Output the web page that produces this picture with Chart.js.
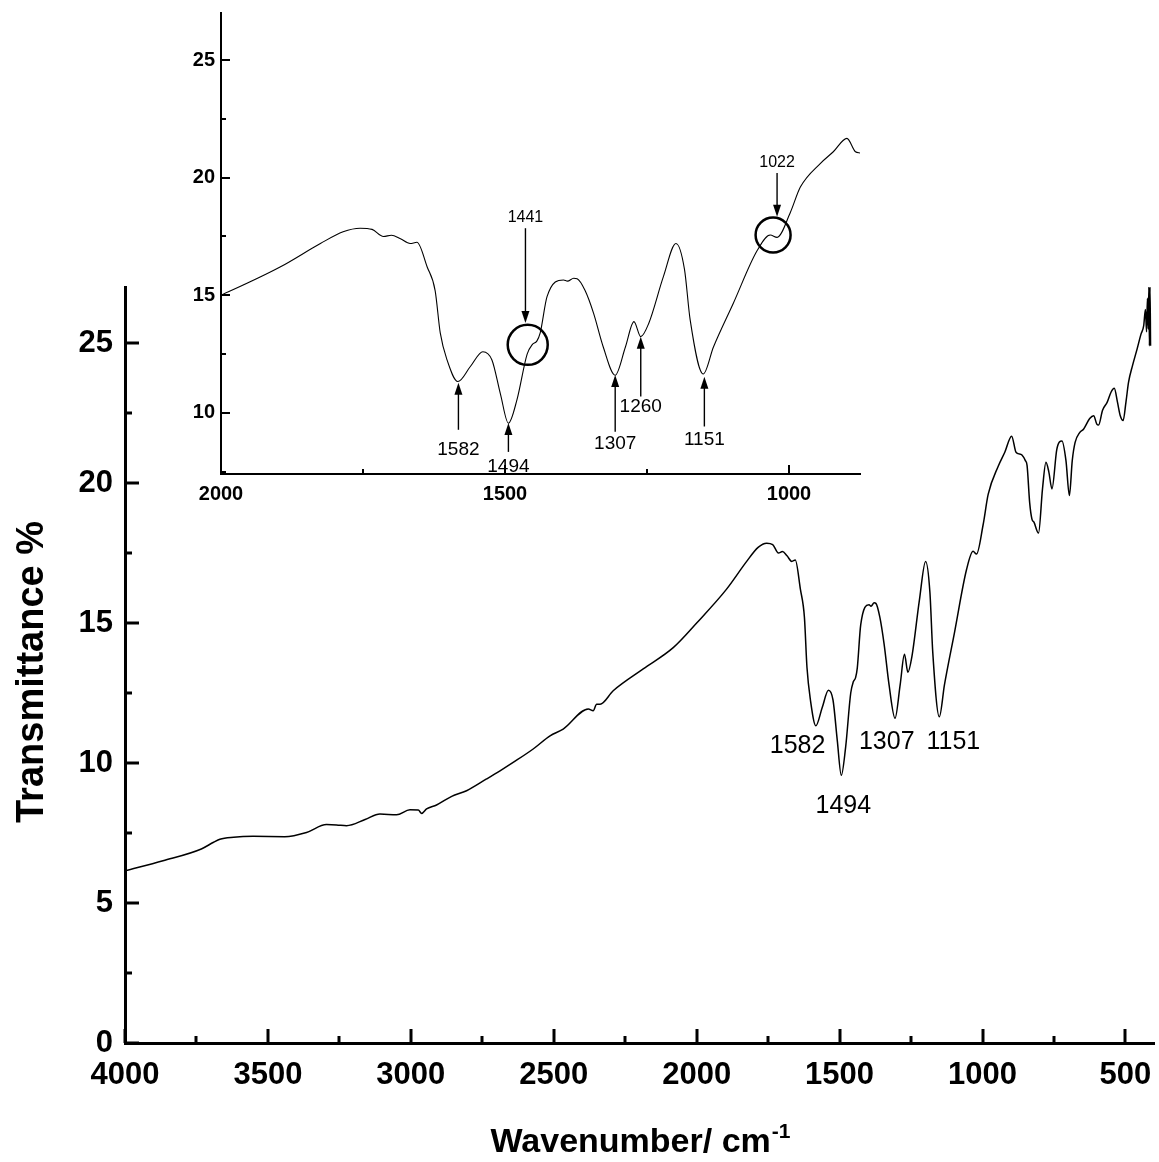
<!DOCTYPE html>
<html>
<head>
<meta charset="utf-8">
<script src="https://cdn.jsdelivr.net/npm/chart.js@4.4.0/dist/chart.umd.min.js"></script>
<style>
  html, body { margin: 0; padding: 0; background: #fff; }
  #wrap { position: relative; width: 1159px; height: 1162px; }
  #main, #inset { position: absolute; left: 0; top: 0; }
</style>
</head>
<body>
<div id="wrap">
  <canvas id="main" width="1159" height="1162"></canvas>
  <canvas id="inset" width="900" height="520"></canvas>
</div>
<script>
// FTIR spectrum (wavenumber descending)
const wavenumber = [
  4000, 3867, 3733, 3690, 3668, 3620, 3552, 3441, 3365, 3295, 3260, 3225, 3160, 3108, 3050,
  3003, 2974, 2962, 2945, 2910, 2857, 2805, 2735, 2688, 2642, 2572, 2513, 2467, 2379, 2362,
  2350, 2338, 2292, 2187, 2081, 2000, 1896, 1825, 1785, 1755, 1734, 1714, 1700, 1684, 1667,
  1655, 1637, 1623, 1614, 1602, 1583, 1561, 1539, 1523, 1508, 1494, 1479, 1461, 1452, 1444,
  1438, 1426, 1397, 1390, 1379, 1373, 1359, 1344, 1327, 1306, 1288, 1273, 1261, 1247, 1221,
  1199, 1184, 1174, 1151, 1133, 1098, 1056, 1033, 1021, 998, 980, 945, 922, 898, 883,
  875, 862, 850, 844, 835, 827, 820, 804, 790, 778, 768, 757, 740, 722, 708,
  696, 686, 676, 660, 646, 625, 611, 600, 594, 580, 564, 550, 539, 528, 518,
  508, 498, 489, 475, 459, 446, 436, 430, 426, 423, 420, 418, 416, 414, 412
];
const transmittance = [
  6.15, 6.51, 6.93, 7.17, 7.28, 7.35, 7.38, 7.37, 7.52, 7.80, 7.79, 7.76, 7.98, 8.18, 8.15,
  8.33, 8.32, 8.20, 8.36, 8.50, 8.81, 9.01, 9.43, 9.72, 10.02, 10.50, 10.97, 11.21, 11.93, 11.87,
  12.10, 12.10, 12.58, 13.36, 14.13, 15.00, 16.20, 17.20, 17.70, 17.85, 17.80, 17.50, 17.55, 17.40, 17.20,
  17.25, 16.20, 15.20, 13.40, 12.25, 11.33, 11.97, 12.60, 12.25, 10.80, 9.56, 10.55, 12.50, 12.90, 13.05,
  13.40, 14.94, 15.65, 15.60, 15.72, 15.70, 15.20, 14.23, 12.80, 11.60, 12.80, 13.88, 13.24, 13.80, 15.80,
  17.20, 16.10, 13.95, 11.65, 12.80, 14.66, 16.90, 17.56, 17.46, 18.50, 19.60, 20.60, 21.10, 21.67, 21.10,
  21.05, 21.00, 20.80, 20.62, 19.30, 18.71, 18.60, 18.21, 19.80, 20.74, 20.40, 19.79, 21.20, 21.50, 20.80,
  19.55, 20.80, 21.45, 21.80, 21.93, 22.30, 22.40, 22.10, 22.07, 22.60, 22.88, 23.25, 23.38, 22.90, 22.40,
  22.23, 22.90, 23.60, 24.20, 24.79, 25.30, 25.62, 26.20, 25.40, 26.60, 25.50, 27.00, 24.90, 27.00, 24.90
];

const mainXTicks = [4000, 3500, 3000, 2500, 2000, 1500, 1000, 500];
const mainXMinor = [3750, 3250, 2750, 2250, 1750, 1250, 750];
const mainYTicks = [0, 5, 10, 15, 20, 25];
const mainYMinor = [2.5, 7.5, 12.5, 17.5, 22.5];
const insetXTicks = [2000, 1500, 1000];
const insetXMinor = [1750, 1250];
const insetYTicks = [10, 15, 20, 25];
const insetYMinor = [7.5, 12.5, 17.5, 22.5];

// band labels on the main plot (placed in data units)
const mainNotes = [
  { text: '1582', x: 1647, y: 10.61 },
  { text: '1494', x: 1487, y: 8.46 },
  { text: '1307', x: 1335, y: 10.75 },
  { text: '1151', x: 1102, y: 10.75 }
];
// arrows and circles on the inset (data units)
const insetArrows = [
  { text: '1582', x: 1582, tip: 11.28, tail: 9.28, labelY: 8.43 },
  { text: '1494', x: 1494, tip: 9.57, tail: 8.34, labelY: 7.70 },
  { text: '1307', x: 1306, tip: 11.61, tail: 9.20, labelY: 8.67 },
  { text: '1260', x: 1261, tip: 13.24, tail: 10.69, labelY: 10.27 },
  { text: '1151', x: 1149, tip: 11.54, tail: 9.42, labelY: 8.85 },
  { text: '1441', x: 1464, tip: 13.82, tail: 17.85, labelY: 18.29, small: true },
  { text: '1022', x: 1021, tip: 18.34, tail: 20.20, labelY: 20.62, small: true }
];
const insetCircles = [
  { x: 1460, y: 12.89, r: 20 },
  { x: 1028, y: 17.56, r: 17.5 }
];

const FONT = "'Liberation Sans', Arial, Helvetica, sans-serif";
const points = wavenumber.map((w, i) => ({ x: w, y: transmittance[i] }));

// inward tick marks (major + minor) drawn on the library's scales
const tickMarks = {
  id: 'tickMarks',
  afterDraw(chart, args, o) {
    const { ctx } = chart;
    const xs = chart.scales.x, ys = chart.scales.y;
    ctx.save();
    ctx.strokeStyle = '#000';
    ctx.lineWidth = o.width;
    const xt = (vals, len) => vals.forEach(v => {
      const px = Math.round(xs.getPixelForValue(v));
      ctx.beginPath(); ctx.moveTo(px, ys.bottom); ctx.lineTo(px, ys.bottom - len); ctx.stroke();
    });
    const yt = (vals, len) => vals.forEach(v => {
      const py = Math.round(ys.getPixelForValue(v));
      ctx.beginPath(); ctx.moveTo(xs.left, py); ctx.lineTo(xs.left + len, py); ctx.stroke();
    });
    xt(o.xMajor, o.major); xt(o.xMinor, o.minor);
    yt(o.yMajor, o.major); yt(o.yMinor, o.minor);
    ctx.restore();
  }
};

function arrowTo(ctx, x, y0, y1) {
  const dir = y1 > y0 ? 1 : -1;
  ctx.beginPath(); ctx.moveTo(x, y0); ctx.lineTo(x, y1 - dir * 10); ctx.stroke();
  ctx.beginPath();
  ctx.moveTo(x, y1);
  ctx.lineTo(x - 4, y1 - dir * 12);
  ctx.lineTo(x + 4, y1 - dir * 12);
  ctx.closePath(); ctx.fill();
}

const mainExtras = {
  id: 'mainExtras',
  afterDraw(chart) {
    const { ctx } = chart;
    const xs = chart.scales.x, ys = chart.scales.y;
    ctx.save();
    ctx.fillStyle = '#000';
    ctx.textAlign = 'center';
    ctx.textBaseline = 'middle';
    ctx.font = '25px ' + FONT;
    mainNotes.forEach(n => ctx.fillText(n.text, xs.getPixelForValue(n.x), ys.getPixelForValue(n.y)));

    // axis titles
    ctx.font = 'bold 38px ' + FONT;
    ctx.save();
    ctx.translate(33, 672);
    ctx.rotate(-Math.PI / 2);
    ctx.fillText('Transmittance %', 0, 0);
    ctx.restore();

    ctx.textBaseline = 'alphabetic';
    ctx.textAlign = 'left';
    const base = 'Wavenumber/ cm';
    ctx.font = 'bold 34px ' + FONT;
    const w1 = ctx.measureText(base).width;
    ctx.font = 'bold 21px ' + FONT;
    const w2 = ctx.measureText('-1').width;
    const x0 = 640 - (w1 + w2) / 2;
    ctx.font = 'bold 34px ' + FONT;
    ctx.fillText(base, x0, 1152);
    ctx.font = 'bold 21px ' + FONT;
    ctx.fillText('-1', x0 + w1 + 1, 1138);
    ctx.restore();
  }
};

const insetExtras = {
  id: 'insetExtras',
  afterDraw(chart) {
    const { ctx } = chart;
    const xs = chart.scales.x, ys = chart.scales.y;
    ctx.save();
    ctx.strokeStyle = '#000';
    ctx.fillStyle = '#000';
    ctx.lineWidth = 1.4;
    insetArrows.forEach(a => {
      const px = xs.getPixelForValue(a.x);
      arrowTo(ctx, px, ys.getPixelForValue(a.tail), ys.getPixelForValue(a.tip));
      ctx.font = (a.small ? '16px ' : '19px ') + FONT;
      ctx.textAlign = 'center';
      ctx.textBaseline = 'middle';
      ctx.fillText(a.text, px, ys.getPixelForValue(a.labelY));
    });
    ctx.lineWidth = 2.5;
    insetCircles.forEach(c => {
      ctx.beginPath();
      ctx.arc(xs.getPixelForValue(c.x), ys.getPixelForValue(c.y), c.r, 0, Math.PI * 2);
      ctx.stroke();
    });
    ctx.restore();
  }
};

function makeChart(id, cfg) {
  const tickFont = { family: FONT, size: cfg.tickSize, weight: 'bold' };
  return new Chart(document.getElementById(id), {
    type: 'line',
    data: {
      datasets: [{
        data: points,
        borderColor: '#000',
        borderWidth: cfg.lineWidth,
        pointRadius: 0,
        fill: false,
        cubicInterpolationMode: 'monotone'
      }]
    },
    options: {
      responsive: false,
      animation: false,
      devicePixelRatio: 1,
      layout: { padding: cfg.padding },
      scales: {
        x: {
          type: 'linear',
          reverse: true,
          min: cfg.xMin, max: cfg.xMax,
          grid: { display: false, drawTicks: false },
          border: { display: true, color: '#000', width: cfg.axisWidth },
          afterBuildTicks: s => { s.ticks = cfg.xTicks.map(v => ({ value: v })); },
          afterFit: s => { s.height = cfg.xHeight; s.paddingLeft = 0; s.paddingRight = 0; },
          ticks: { color: '#000', font: tickFont, padding: cfg.xPad, maxRotation: 0, autoSkip: false,
                   callback: v => String(v) }
        },
        y: {
          type: 'linear',
          min: cfg.yMin, max: cfg.yMax,
          grid: { display: false, drawTicks: false },
          border: { display: true, color: '#000', width: cfg.axisWidth },
          afterBuildTicks: s => { s.ticks = cfg.yTicks.map(v => ({ value: v })); },
          afterFit: s => { s.width = cfg.yWidth; s.paddingTop = 0; s.paddingBottom = 0; },
          ticks: { color: '#000', font: tickFont, padding: cfg.yPad, callback: v => String(v) }
        }
      },
      plugins: {
        legend: { display: false },
        tooltip: { enabled: false },
        tickMarks: {
          width: cfg.axisWidth, major: cfg.major, minor: cfg.minor,
          xMajor: cfg.xTicks, xMinor: cfg.xMinorTicks, yMajor: cfg.yTicks, yMinor: cfg.yMinorTicks
        }
      }
    },
    plugins: [tickMarks, cfg.extras]
  });
}

makeChart('main', {
  xMin: 400, xMax: 4000, yMin: 0, yMax: 27,
  xTicks: mainXTicks, xMinorTicks: mainXMinor, yTicks: mainYTicks, yMinorTicks: mainYMinor,
  padding: { top: 287, right: 5, left: 0, bottom: 0 },
  xHeight: 119, yWidth: 125, xPad: 14, yPad: 12,
  tickSize: 31, lineWidth: 1.5, axisWidth: 3, major: 14, minor: 7,
  extras: mainExtras
});

makeChart('inset', {
  xMin: 875, xMax: 2000, yMin: 7.4, yMax: 27,
  xTicks: insetXTicks, xMinorTicks: insetXMinor, yTicks: insetYTicks, yMinorTicks: insetYMinor,
  padding: { top: 13, right: 40, left: 0, bottom: 0 },
  xHeight: 46, yWidth: 221, xPad: 8, yPad: 6,
  tickSize: 20, lineWidth: 1.1, axisWidth: 2, major: 9, minor: 5,
  extras: insetExtras
});
</script>
</body>
</html>
